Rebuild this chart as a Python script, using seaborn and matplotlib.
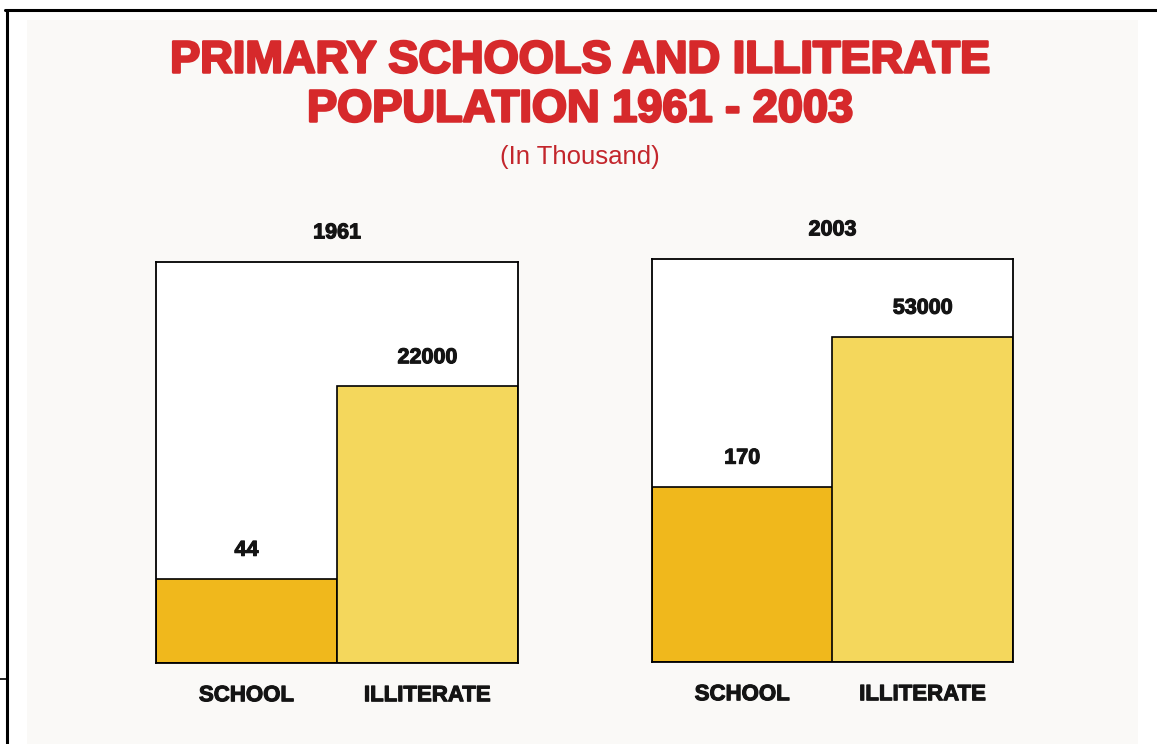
import seaborn as sns
import numpy as np
import pandas as pd
import matplotlib.pyplot as plt
import matplotlib.patheffects as pe
from matplotlib.lines import Line2D
from matplotlib.patches import Rectangle

# Values printed on the chart (in thousand)
years = ['1961', '2003']
categories = ['SCHOOL', 'ILLITERATE']
school_values = [44, 170]
illiterate_values = [22000, 53000]

# The bars in the original are not drawn to scale: heights read off the
# picture as a share of each panel's height
school_heights = [0.21, 0.435]
illiterate_heights = [0.69, 0.807]

bar_colors = ['#f0b81c', '#f4d75c']
page_color = '#faf9f7'
title_red = '#d6292b'
text_black = '#141414'

sns.set_theme(style='white')
plt.rcParams['font.family'] = ['Liberation Sans', 'DejaVu Sans']

fig = plt.figure(figsize=(11.57, 7.44), dpi=100)
fig.patch.set_facecolor('white')

W, H = 1157, 744

def fx(px):
    return px / W

def fy(py):
    return 1 - py / H

def heavy(color, lw=1.0):
    # thicken the bold font a little, the print uses a black weight
    return [pe.withStroke(linewidth=lw, foreground=color)]

# scanned page area and the black frame around it
fig.add_artist(Rectangle((fx(27), 0), fx(1138 - 27), fy(20), transform=fig.transFigure,
                         facecolor=page_color, edgecolor='none', zorder=0))
fig.add_artist(Line2D([fx(5), 1], [fy(10), fy(10)], transform=fig.transFigure, color='black', lw=2.2))
fig.add_artist(Line2D([fx(7), fx(7)], [fy(10), 0], transform=fig.transFigure, color='black', lw=2.2))
fig.add_artist(Line2D([0, fx(7)], [fy(679), fy(679)], transform=fig.transFigure, color='black', lw=1.2))

# Title
fig.text(fx(580), fy(61), 'PRIMARY SCHOOLS AND ILLITERATE', ha='center', va='center',
         fontsize=32.5, fontweight='bold', color=title_red, path_effects=heavy(title_red, 1.8))
fig.text(fx(580), fy(110), 'POPULATION 1961 - 2003', ha='center', va='center',
         fontsize=32.5, fontweight='bold', color=title_red, path_effects=heavy(title_red, 1.8))
fig.text(fx(580), fy(157), '(In Thousand)', ha='center', va='center',
         fontsize=18.5, color='#c3262c')

# panel boxes in pixels (left, top, right, bottom)
panels = [(156, 262, 518, 663), (652, 259, 1013, 662)]

for i, year in enumerate(years):
    l, t, r, b = panels[i]
    ax = fig.add_axes([fx(l), fy(b), fx(r - l), (b - t) / H])
    ax.set_facecolor('white')

    df = pd.DataFrame({
        'category': categories,
        'height': [school_heights[i], illiterate_heights[i]],
        'value': [school_values[i], illiterate_values[i]],
    })
    sns.barplot(data=df, x='category', y='height', hue='category', palette=bar_colors,
                width=1, edgecolor='black', linewidth=1.2, saturation=1, legend=False, ax=ax)

    # value labels on top of each bar
    for container, val in zip(ax.containers, df['value']):
        ax.bar_label(container, labels=[str(val)], padding=13, fontsize=15.5,
                     fontweight='bold', color=text_black, path_effects=heavy(text_black, 0.8))

    ax.set_xlim(-0.5, 1.5)
    ax.set_ylim(0, 1)
    ax.set_yticks([])
    ax.set_xlabel('')
    ax.set_ylabel('')
    ax.tick_params(axis='x', length=0, pad=16)
    for lab in ax.get_xticklabels():
        lab.set_fontsize(16)
        lab.set_fontweight('bold')
        lab.set_color(text_black)
        lab.set_path_effects(heavy(text_black, 0.8))
    for sp in ax.spines.values():
        sp.set_visible(True)
        sp.set_color('black')
        sp.set_linewidth(1.3)
    ax.set_title(year, pad=17, fontsize=15.5, fontweight='bold', color=text_black,
                 path_effects=heavy(text_black, 0.8))

fig.savefig('out.png', dpi=100, facecolor=fig.get_facecolor())
